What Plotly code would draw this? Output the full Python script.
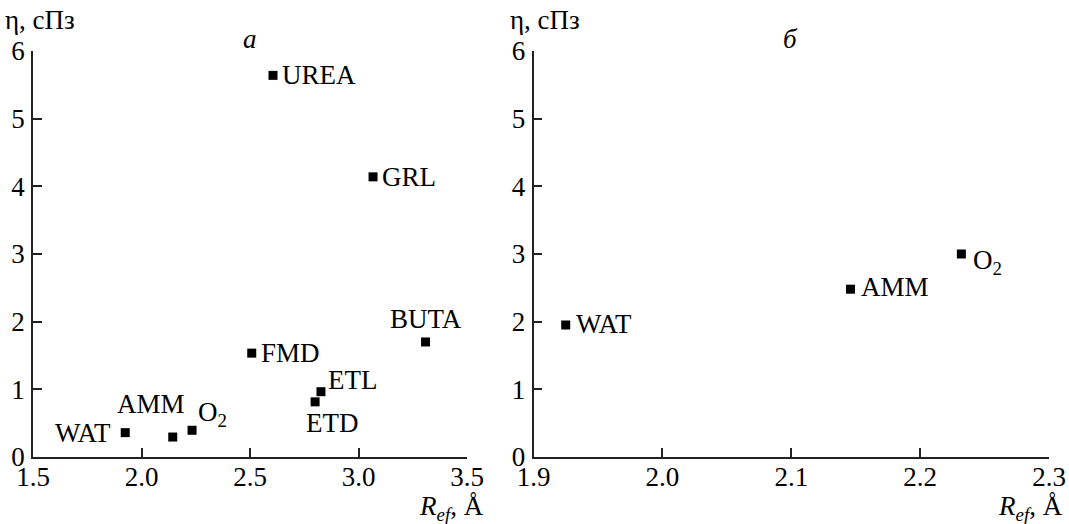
import plotly.graph_objects as go

# ---- data ----
names_a = ["WAT", "AMM", "O2", "FMD", "ETD", "ETL", "BUTA", "UREA", "GRL"]
r_a = [1.925, 2.144, 2.233, 2.508, 2.800, 2.827, 3.309, 2.606, 3.067]
eta_a = [0.36, 0.295, 0.395, 1.535, 0.815, 0.965, 1.70, 5.64, 4.14]

names_b = ["WAT", "AMM", "O2"]
r_b = [1.925, 2.146, 2.232]
eta_b = [1.95, 2.48, 3.00]

x_ticks_a = [1.5, 2.0, 2.5, 3.0, 3.5]
x_ticks_b = [1.9, 2.0, 2.1, 2.2, 2.3]
y_ticks = [0, 1, 2, 3, 4, 5, 6]

# ---- styles ----
FONT = "Liberation Serif"
FS = 27
display = {"O2": "O<sub>2</sub>"}
# label placement: (xanchor, xshift, yshift)
place_a = {
    "WAT": ("right", -12, 0),
    "AMM": ("center", -22, 33),
    "O2": ("left", 4, 16),
    "FMD": ("left", 7, 0),
    "ETD": ("center", 17, -21),
    "ETL": ("left", 5, 12),
    "BUTA": ("center", 0, 23),
    "UREA": ("left", 7, 0),
    "GRL": ("left", 7, 0),
}
place_b = {
    "WAT": ("left", 8, 1),
    "AMM": ("left", 8, 2),
    "O2": ("left", 10, -8),
}

fig = go.Figure()
marker = dict(symbol="square", size=9, color="black")
fig.add_trace(go.Scatter(x=r_a, y=eta_a, mode="markers", marker=marker,
                         xaxis="x", yaxis="y", showlegend=False, hoverinfo="skip"))
fig.add_trace(go.Scatter(x=r_b, y=eta_b, mode="markers", marker=marker,
                         xaxis="x2", yaxis="y2", showlegend=False, hoverinfo="skip"))

lab_font = dict(family=FONT, size=FS, color="black")
ann = []
for n, x, y in zip(names_a, r_a, eta_a):
    xa, xs, ys = place_a[n]
    ann.append(dict(x=x, y=y, xref="x", yref="y", text=display.get(n, n),
                    showarrow=False, xanchor=xa, yanchor="middle",
                    xshift=xs, yshift=ys, font=lab_font))
for n, x, y in zip(names_b, r_b, eta_b):
    xa, xs, ys = place_b[n]
    ann.append(dict(x=x, y=y, xref="x2", yref="y2", text=display.get(n, n),
                    showarrow=False, xanchor=xa, yanchor="middle",
                    xshift=xs, yshift=ys, font=lab_font))

# axis titles and panel labels
for xp in [0.003, 0.475]:
    ann.append(dict(x=xp, y=0.962, xref="paper", yref="paper", text="η, сПз",
                    showarrow=False, xanchor="left", yanchor="middle", font=lab_font))
for xp in [0.4545, 0.9963]:
    ann.append(dict(x=xp, y=0.0, xref="paper", yref="paper",
                    text="<i>R</i><sub><i>ef</i></sub>, Å",
                    showarrow=False, xanchor="right", yanchor="bottom", yshift=-3,
                    font=lab_font))
ann.append(dict(x=250 / 1069, y=1 - 39 / 524, xref="paper", yref="paper", text="<i>а</i>",
                showarrow=False, xanchor="center", yanchor="middle", font=lab_font))
ann.append(dict(x=790 / 1069, y=1 - 39 / 524, xref="paper", yref="paper", text="<i>б</i>",
                showarrow=False, xanchor="center", yanchor="middle", font=lab_font))

axis_common = dict(showline=True, linecolor="#222", linewidth=1.5, ticks="inside",
                   ticklen=9, tickwidth=1.5, tickcolor="#222", showgrid=False,
                   zeroline=False, tickfont=dict(family=FONT, size=FS, color="black"),
                   mirror=False, automargin=False)

fig.update_layout(
    width=1069, height=524,
    margin=dict(l=0, r=0, t=0, b=0, autoexpand=False),
    font=dict(family=FONT, size=FS, color="black"),
    paper_bgcolor="white", plot_bgcolor="white",
    xaxis=dict(domain=[33 / 1069, 467 / 1069], range=[1.5, 3.5], tickvals=x_ticks_a,
               ticktext=[f"{v:.1f}" for v in x_ticks_a], anchor="y",
               ticklabelstandoff=-5, **axis_common),
    yaxis=dict(domain=[1 - 457 / 524, 1 - 51 / 524], range=[0, 6], tickvals=y_ticks,
               anchor="x", ticklabelstandoff=1, **axis_common),
    xaxis2=dict(domain=[533.5 / 1069, 1049 / 1069], range=[1.9, 2.3], tickvals=x_ticks_b,
                ticktext=[f"{v:.1f}" for v in x_ticks_b], anchor="y2",
                ticklabelstandoff=-5, **axis_common),
    yaxis2=dict(domain=[1 - 457 / 524, 1 - 51 / 524], range=[0, 6], tickvals=y_ticks,
                anchor="x2", ticklabelstandoff=1, **axis_common),
    annotations=ann,
)

fig.write_html("out.html", config={"displayModeBar": False},
               post_script="document.body.style.margin='0';")
